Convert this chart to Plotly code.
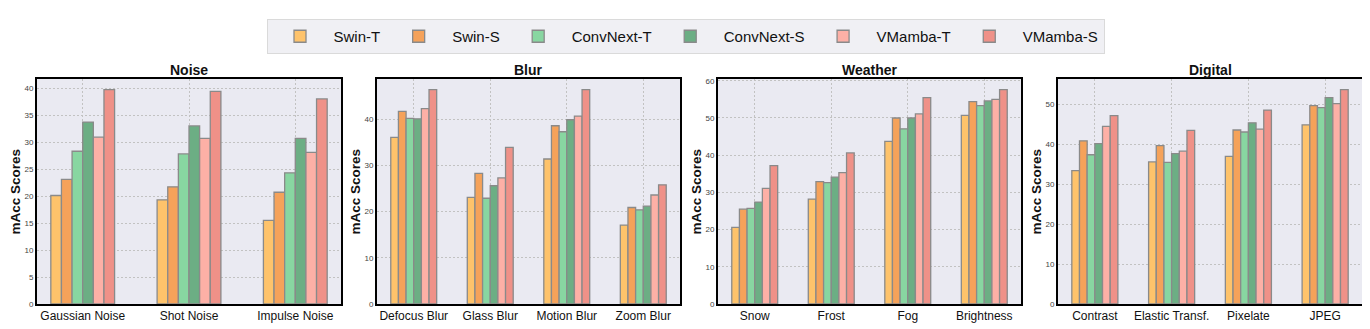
import plotly.graph_objects as go

models = ["Swin-T", "Swin-S", "ConvNext-T", "ConvNext-S", "VMamba-T", "VMamba-S"]
colors = ["#FEC36B", "#F5A25A", "#88D6A1", "#6CAE84", "#FDB0A6", "#EF9188"]

panel_titles = ["Noise", "Blur", "Weather", "Digital"]

noise_cats = ["Gaussian Noise", "Shot Noise", "Impulse Noise"]
noise_vals = {
    "Swin-T": [20.1, 19.3, 15.5],
    "Swin-S": [23.1, 21.7, 20.7],
    "ConvNext-T": [28.3, 27.8, 24.3],
    "ConvNext-S": [33.7, 33.0, 30.7],
    "VMamba-T": [30.9, 30.7, 28.1],
    "VMamba-S": [39.7, 39.4, 38.0],
}

blur_cats = ["Defocus Blur", "Glass Blur", "Motion Blur", "Zoom Blur"]
blur_vals = {
    "Swin-T": [36.1, 23.1, 31.4, 17.1],
    "Swin-S": [41.7, 28.3, 38.6, 20.9],
    "ConvNext-T": [40.2, 22.9, 37.3, 20.4],
    "ConvNext-S": [40.1, 25.6, 39.9, 21.2],
    "VMamba-T": [42.3, 27.3, 40.7, 23.6],
    "VMamba-S": [46.4, 33.9, 46.4, 25.8],
}

weather_cats = ["Snow", "Frost", "Fog", "Brightness"]
weather_vals = {
    "Swin-T": [20.6, 28.2, 43.7, 50.7],
    "Swin-S": [25.5, 32.9, 50.0, 54.4],
    "ConvNext-T": [25.7, 32.6, 47.1, 53.3],
    "ConvNext-S": [27.4, 34.1, 50.0, 54.6],
    "VMamba-T": [31.1, 35.3, 51.1, 55.0],
    "VMamba-S": [37.2, 40.6, 55.5, 57.6],
}

digital_cats = ["Contrast", "Elastic Transf.", "Pixelate", "JPEG"]
digital_vals = {
    "Swin-T": [33.4, 35.6, 37.0, 44.9],
    "Swin-S": [40.9, 39.7, 43.6, 49.7],
    "ConvNext-T": [37.4, 35.5, 43.1, 49.2],
    "ConvNext-S": [40.2, 37.7, 45.4, 51.7],
    "VMamba-T": [44.5, 38.3, 43.8, 50.2],
    "VMamba-S": [47.2, 43.5, 48.6, 53.7],
}

y_dticks = [5, 10, 10, 10]

# the page body has an 8px margin, so work in window pixels and shift
OFF = 8
W, H = 1370 - OFF, 329 - OFF
# plot areas in window pixels (left, right), shared top/bottom
px_x = [(37, 341), (377, 680), (718, 1021), (1058, 1362)]
top, bottom = 79, 304


def fx(p):
    return (p - OFF) / W


def fy(p):
    return 1 - (p - OFF) / H


panels = [
    (noise_cats, noise_vals),
    (blur_cats, blur_vals),
    (weather_cats, weather_vals),
    (digital_cats, digital_vals),
]

fig = go.Figure()

for i, (cats, vals) in enumerate(panels):
    sfx = "" if i == 0 else str(i + 1)
    for m, c in zip(models, colors):
        fig.add_trace(go.Bar(
            x=cats, y=vals[m], name=m,
            marker=dict(color=c, line=dict(color="#8a8a8a", width=1.3)),
            xaxis="x" + sfx, yaxis="y" + sfx,
            showlegend=(i == 0), legendgroup=m,
        ))

    ymax = max(max(v) for v in vals.values()) * 1.05
    n = len(cats)
    pad = (n - 0.4) * 0.05
    x0, x1 = px_x[i]
    grid = dict(showgrid=True, gridcolor="#c2c2c2", griddash="2px,2px", gridwidth=1)
    fig.update_layout(**{
        "xaxis" + sfx: dict(
            domain=[fx(x0), fx(x1)], anchor="y" + sfx,
            range=[-0.3 - pad, n - 0.7 + pad],
            showline=True, mirror=True, linecolor="black", linewidth=2,
            tickfont=dict(size=12, color="#111"), ticks="", automargin=False,
            zeroline=False, **grid,
        ),
        "yaxis" + sfx: dict(
            domain=[fy(bottom), fy(top)], anchor="x" + sfx,
            range=[0, ymax], dtick=y_dticks[i], tick0=0,
            showline=True, mirror=True, linecolor="black", linewidth=2,
            tickfont=dict(size=8, color="#444"), ticks="", automargin=False,
            zeroline=False, **grid,
        ),
    })
    # panel title
    fig.add_annotation(
        text="<b>" + panel_titles[i] + "</b>", xref="paper", yref="paper",
        x=fx((x0 + x1) / 2), y=fy(70), showarrow=False,
        font=dict(size=14, color="#111"), xanchor="center", yanchor="middle",
    )
    # y axis title
    fig.add_annotation(
        text="<b>mAcc Scores</b>", xref="paper", yref="paper",
        x=fx(x0 - 22), y=fy((top + bottom) / 2), showarrow=False,
        textangle=-90, font=dict(size=13.5, color="#111"),
        xanchor="center", yanchor="middle",
    )

fig.update_layout(
    width=W, height=H,
    margin=dict(l=0, r=0, t=0, b=0),
    paper_bgcolor="white", plot_bgcolor="#EAEAF2",
    barmode="group", bargap=0.4, bargroupgap=0,
    font=dict(family="Liberation Sans, Arial, sans-serif"),
    legend=dict(
        orientation="h", x=fx(685.5), y=fy(36.5), xanchor="center", yanchor="middle",
        bgcolor="#F0F0F4", bordercolor="#DADADA", borderwidth=1,
        font=dict(size=15, color="#111"), itemwidth=57,
    ),
)

fig.write_html("out.html")
